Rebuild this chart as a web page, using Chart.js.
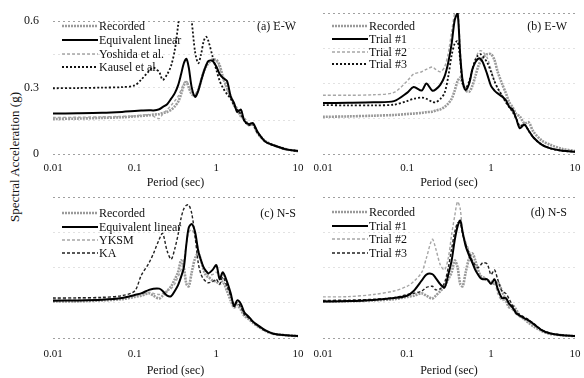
<!DOCTYPE html>
<html><head><meta charset="utf-8">
<script src="https://cdn.jsdelivr.net/npm/chart.js@4.4.0/dist/chart.umd.min.js"></script>
<style>
html,body{margin:0;padding:0;background:#fff;}
body{width:584px;height:378px;position:relative;overflow:hidden;font-family:"Liberation Serif","Times New Roman",serif;color:#111;}
.pane{position:absolute;}
.pane canvas{display:block;}
.lgrow{position:absolute;height:12px;display:flex;align-items:center;font-size:12px;line-height:12px;white-space:nowrap;transform:translateY(-50%);}
.lgrow svg{display:block;margin-right:1px;}
.plabel{position:absolute;font-size:12px;line-height:12px;white-space:nowrap;transform:translateY(-50%);}
#ytitle{position:absolute;font-size:13px;white-space:nowrap;transform:translate(-50%,-50%) rotate(-90deg);}
</style></head><body>
<div id="ytitle">Spectral Acceleration (g)</div>
<script>
// ---------- data ----------
const periods = [0.01,0.02,0.04,0.07,0.1,0.12,0.15,0.17,0.2,0.22,0.25,0.28,0.31,0.34,0.37,0.4,0.43,0.46,0.5,0.55,0.6,0.65,0.7,0.75,0.8,0.9,1.0,1.1,1.2,1.35,1.5,1.65,1.8,2.0,2.2,2.5,2.8,3.2,4.0,5.0,7.0,10.0];
const xTicks = [0.01, 0.1, 1, 10];
const xTickLabels = ['0.01', '0.1', '1', '10'];
const yTicks = [0, 0.15, 0.3, 0.45, 0.6];
const yTickLabels = ['0', '', '0.3', '', '0.6'];
const xTitle = 'Period (sec)';
const yTitle = 'Spectral Acceleration (g)';

// E-W component
const recordedEW = [0.158,0.16,0.163,0.166,0.17, 0.172,0.175,0.178,0.18,0.185, 0.19,0.2,0.215,0.235,0.27, 0.31,0.325,0.3,0.27,0.265, 0.29,0.33,0.37,0.395,0.41, 0.425,0.425,0.4,0.35,0.3, 0.26,0.22,0.2,0.17,0.16, 0.13,0.135,0.095,0.058,0.04, 0.022,0.013];
const eqLinearEW = [0.183,0.184,0.186,0.19,0.194, 0.196,0.198,0.197,0.202,0.212, 0.225,0.25,0.275,0.31,0.36, 0.41,0.43,0.39,0.3,0.258, 0.285,0.33,0.37,0.4,0.42, 0.42,0.395,0.36,0.345,0.33, 0.26,0.23,0.19,0.2,0.15, 0.135,0.14,0.1,0.055,0.04, 0.022,0.013];
const yoshidaEW = [0.165,0.166,0.168,0.17,0.172, 0.175,0.178,0.17,0.16,0.18, 0.2,0.22,0.24,0.26,0.29, 0.32,0.33,0.31,0.28,0.27, 0.295,0.34,0.38,0.405,0.42, 0.43,0.42,0.39,0.34,0.29, 0.25,0.22,0.21,0.17,0.155, 0.13,0.13,0.09,0.055,0.038, 0.02,0.012];
const kauselEW = [0.297,0.298,0.3,0.302,0.31, 0.335,0.375,0.39,0.37,0.335, 0.36,0.4,0.47,0.58,0.7, 0.8,0.8,0.72,0.6,0.46, 0.41,0.45,0.51,0.53,0.51, 0.44,0.38,0.33,0.3,0.27, 0.25,0.22,0.2,0.18,0.15, 0.13,0.135,0.095,0.055,0.04, 0.022,0.013];
const trial1EW = [0.217,0.218,0.22,0.225,0.26, 0.285,0.27,0.3,0.27,0.275, 0.295,0.33,0.39,0.47,0.57, 0.6,0.42,0.31,0.272,0.3, 0.36,0.39,0.405,0.405,0.39, 0.34,0.29,0.27,0.258,0.245, 0.23,0.2,0.19,0.15,0.11, 0.125,0.1,0.07,0.04,0.025, 0.014,0.01];
const trial2EW = [0.25,0.25,0.252,0.262,0.31, 0.34,0.35,0.36,0.37,0.36, 0.35,0.37,0.43,0.52,0.6, 0.63,0.45,0.32,0.28,0.3, 0.36,0.4,0.43,0.44,0.435, 0.41,0.36,0.31,0.28,0.25, 0.22,0.2,0.18,0.15,0.12, 0.125,0.1,0.07,0.04,0.025, 0.014,0.01];
const trial3EW = [0.208,0.207,0.207,0.21,0.225, 0.235,0.24,0.235,0.222,0.22, 0.235,0.26,0.33,0.42,0.47, 0.48,0.4,0.3,0.28,0.31, 0.36,0.4,0.42,0.425,0.415, 0.39,0.35,0.31,0.28,0.25, 0.22,0.2,0.18,0.15,0.12, 0.125,0.1,0.07,0.04,0.025, 0.014,0.01];

// N-S component
const recordedNS = [0.155,0.156,0.16,0.165,0.175, 0.18,0.19,0.18,0.168,0.18, 0.2,0.22,0.25,0.28,0.33, 0.3,0.23,0.22,0.28,0.34, 0.36,0.33,0.29,0.265,0.26, 0.245,0.24,0.23,0.24,0.2, 0.16,0.13,0.14,0.12,0.095, 0.08,0.065,0.05,0.03,0.018, 0.012,0.008];
const eqLinearNS = [0.159,0.16,0.163,0.17,0.183, 0.19,0.205,0.21,0.21,0.2, 0.18,0.178,0.2,0.225,0.26, 0.3,0.4,0.47,0.485,0.45, 0.37,0.33,0.3,0.285,0.275, 0.29,0.31,0.25,0.28,0.24, 0.19,0.135,0.16,0.145,0.11, 0.09,0.07,0.055,0.032,0.018, 0.012,0.009];
const yksmNS = [0.165,0.166,0.168,0.172,0.18, 0.185,0.195,0.19,0.185,0.19, 0.2,0.21,0.23,0.26,0.29, 0.33,0.4,0.45,0.46,0.43, 0.38,0.33,0.3,0.28,0.27, 0.27,0.28,0.26,0.27,0.22, 0.18,0.14,0.15,0.13,0.1, 0.085,0.068,0.052,0.03,0.018, 0.012,0.008];
const kaNS = [0.17,0.171,0.173,0.18,0.2, 0.265,0.32,0.36,0.42,0.445, 0.37,0.335,0.38,0.44,0.51, 0.55,0.565,0.566,0.53,0.43, 0.32,0.27,0.25,0.24,0.235, 0.24,0.25,0.23,0.26,0.22, 0.18,0.14,0.15,0.13,0.1, 0.085,0.068,0.052,0.03,0.018, 0.012,0.008];
const trial1NS = [0.155,0.157,0.162,0.17,0.18, 0.2,0.245,0.27,0.272,0.255, 0.228,0.215,0.27,0.33,0.417, 0.475,0.5,0.45,0.39,0.35, 0.32,0.29,0.27,0.255,0.25, 0.25,0.23,0.25,0.21,0.17, 0.17,0.145,0.13,0.105,0.095, 0.084,0.075,0.06,0.034,0.02, 0.012,0.008];
const trial2NS = [0.175,0.176,0.185,0.2,0.22, 0.24,0.28,0.34,0.42,0.38, 0.31,0.29,0.34,0.44,0.52, 0.58,0.55,0.45,0.41,0.37, 0.33,0.3,0.28,0.265,0.26, 0.25,0.235,0.24,0.19,0.16, 0.165,0.13,0.12,0.1,0.09, 0.08,0.07,0.056,0.032,0.019, 0.011,0.007];
const trial3NS = [0.16,0.161,0.165,0.172,0.185, 0.19,0.2,0.215,0.22,0.205, 0.21,0.235,0.3,0.38,0.45, 0.49,0.49,0.44,0.4,0.36, 0.33,0.31,0.3,0.31,0.32, 0.315,0.27,0.29,0.25,0.2, 0.19,0.165,0.14,0.11,0.1, 0.088,0.078,0.062,0.036,0.021, 0.013,0.008];

const namesA = ['Recorded', 'Equivalent linear', 'Yoshida et al.', 'Kausel et al.'];
const namesB = ['Recorded', 'Trial #1', 'Trial #2', 'Trial #3'];
const namesC = ['Recorded', 'Equivalent linear', 'YKSM', 'KA'];
const namesD = ['Recorded', 'Trial #1', 'Trial #2', 'Trial #3'];
const panelTitles = ['(a) E-W', '(b) E-W', '(c) N-S', '(d) N-S'];

// ---------- styles ----------
const FONT = '"Liberation Serif","Times New Roman",serif';
const ST = {
  rec:       {color:'#9a9a9a', width:2.6, dash:[2,1], order:4},
  solid:     {color:'#000000', width:2,   dash:[],    order:0},
  grayDash:  {color:'#a6a6a6', width:1.4, dash:[3,2], order:3},
  blackDot:  {color:'#111111', width:1.8, dash:[2,2], order:1},
  blackDash: {color:'#222222', width:1.4, dash:[3,2], order:1}
};

const panels = [
  {left:0,   top:0,   w:312, h:190, pad:{left:0, top:13, right:14, bottom:0}, yW:53, xH:36, showY:true,  tickPad:8,
   names:namesA, values:[recordedEW, eqLinearEW, yoshidaEW, kauselEW], styles:[ST.rec, ST.solid, ST.grayDash, ST.blackDot],
   lgLeft:62, lgRows:[26,40,54,67], title:panelTitles[0], tRight:288, tY:26},
  {left:300, top:0,   w:284, h:190, pad:{left:23, top:13, right:9, bottom:0}, yW:0, xH:36, showY:false, tickPad:8,
   names:namesB, values:[recordedEW, trial1EW, trial2EW, trial3EW], styles:[ST.rec, ST.solid, ST.grayDash, ST.blackDot],
   lgLeft:332, lgRows:[26,39,52,64], title:panelTitles[1], tRight:17, tY:26},
  {left:0,   top:184, w:312, h:194, pad:{left:0, top:13, right:14, bottom:0}, yW:53, xH:40, showY:false, tickPad:10,
   names:namesC, values:[recordedNS, eqLinearNS, yksmNS, kaNS], styles:[ST.rec, ST.solid, ST.grayDash, ST.blackDash],
   lgLeft:62, lgRows:[213,227,240,253], title:panelTitles[2], tRight:288, tY:213},
  {left:300, top:184, w:284, h:194, pad:{left:23, top:13, right:9, bottom:0}, yW:0, xH:40, showY:false, tickPad:10,
   names:namesD, values:[recordedNS, trial1NS, trial2NS, trial3NS], styles:[ST.rec, ST.solid, ST.grayDash, ST.blackDash],
   lgLeft:332, lgRows:[212,226,239,253], title:panelTitles[3], tRight:17, tY:212}
];

const yt = document.getElementById('ytitle');
yt.textContent = yTitle; yt.style.left = '15px'; yt.style.top = '157px';

panels.forEach(p => {
  const div = document.createElement('div');
  div.className = 'pane';
  div.style.left = p.left + 'px'; div.style.top = p.top + 'px';
  div.style.width = p.w + 'px'; div.style.height = p.h + 'px';
  const cv = document.createElement('canvas');
  cv.width = p.w; cv.height = p.h;
  cv.style.width = p.w + 'px'; cv.style.height = p.h + 'px';
  div.appendChild(cv);
  document.body.appendChild(div);

  new Chart(cv.getContext('2d'), {
    type: 'line',
    data: {
      datasets: p.values.map((arr, k) => ({
        label: p.names[k],
        data: periods.map((t, i) => ({x: t, y: arr[i]})),
        borderColor: p.styles[k].color,
        borderWidth: p.styles[k].width,
        borderDash: p.styles[k].dash,
        order: p.styles[k].order,
        pointRadius: 0,
        tension: 0.3,
        fill: false
      }))
    },
    options: {
      responsive: false, animation: false, devicePixelRatio: 1,
      layout: {padding: p.pad},
      plugins: {legend: {display: false}, tooltip: {enabled: false}},
      scales: {
        x: {
          type: 'logarithmic', min: 0.01, max: 10,
          grid: {display: false, drawTicks: false},
          border: {display: false},
          afterBuildTicks: s => { s.ticks = xTicks.map(v => ({value: v})); },
          afterFit: s => { s.height = p.xH; s.paddingLeft = 0; s.paddingRight = 0; },
          ticks: {autoSkip: false, maxRotation: 0, minRotation: 0, padding: p.tickPad, color: '#111',
                  font: {family: FONT, size: 11}, callback: (v, i) => xTickLabels[i]},
          title: {display: true, text: xTitle, color: '#111', font: {family: FONT, size: 12}, padding: {top: 0, bottom: 0}}
        },
        y: {
          min: 0, max: 0.6,
          grid: {drawTicks: false, lineWidth: 1,
                 color: c => (c.tick && (c.tick.value === 0 || c.tick.value === 0.6)) ? '#a0a0a0' : '#e2e2e2'},
          border: {display: false, dash: [2, 3]},
          afterBuildTicks: s => { s.ticks = yTicks.map(v => ({value: v})); },
          afterFit: s => { s.width = p.yW; },
          ticks: {display: p.showY, padding: 14, color: '#111', font: {family: FONT, size: 12},
                  callback: (v, i) => yTickLabels[i]}
        }
      }
    }
  });

  // legend (HTML, built from the series names and styles)
  p.names.forEach((n, k) => {
    const row = document.createElement('div');
    row.className = 'lgrow';
    row.style.left = p.lgLeft + 'px'; row.style.top = p.lgRows[k] + 'px';
    const st = p.styles[k];
    row.innerHTML = '<svg width="36" height="6"><line x1="0" y1="3" x2="36" y2="3" stroke="' + st.color +
      '" stroke-width="' + st.width + '" stroke-dasharray="' + (st.dash.length ? st.dash.join(' ') : 'none') + '"/></svg>';
    const sp = document.createElement('span'); sp.textContent = n; row.appendChild(sp);
    document.body.appendChild(row);
  });
  const lab = document.createElement('div');
  lab.className = 'plabel'; lab.textContent = p.title;
  lab.style.right = p.tRight + 'px'; lab.style.top = p.tY + 'px';
  document.body.appendChild(lab);
});
</script>
</body></html>
